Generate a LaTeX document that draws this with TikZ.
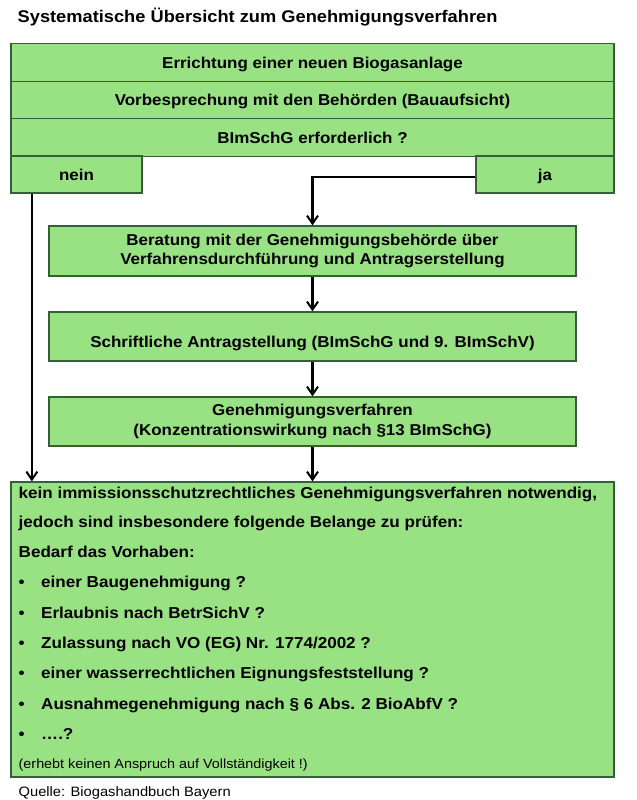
\documentclass[tikz,border=0pt]{standalone}
\usepackage{fontspec}
\setmainfont{Liberation Sans}
\newfontfamily\widefont[FakeStretch=1.08]{Liberation Sans}
\usetikzlibrary{arrows.meta,calc}
\definecolor{boxgreen}{RGB}{152,226,132}
\definecolor{boxline}{RGB}{55,95,55}
\begin{document}
\begin{tikzpicture}[x=1bp,y=-1bp,
  box/.style={draw=boxline, line width=1.3bp, fill=boxgreen, inner sep=0pt, align=center,
    font=\widefont\bfseries\fontsize{15.7bp}{19.5bp}\selectfont},
  oneline/.style={text height=11.2bp, text depth=0bp},
  flow/.style={line width=2.3bp, -{Straight Barb[length=8bp,width=11bp,line width=2bp]}},
  bodytext/.style={anchor=base west, inner sep=0pt, font=\widefont\bfseries\fontsize{15.8bp}{18bp}\selectfont},
  smalltext/.style={anchor=base west, inner sep=0pt, font=\widefont\fontsize{13.3bp}{15bp}\selectfont},
  titletext/.style={anchor=base west, inner sep=0pt, font=\widefont\bfseries\fontsize{16.9bp}{19bp}\selectfont},
  srctext/.style={anchor=base west, inner sep=0pt, font=\widefont\fontsize{13.6bp}{16bp}\selectfont}]
\useasboundingbox (0,0) rectangle (637,800);

\node[titletext] (title) at (17.5,22.7) {Systematische Übersicht zum Genehmigungsverfahren};

\node[box, oneline, minimum width=603bp, minimum height=37.5bp] (r1) at (312.5,62.5) {Errichtung einer neuen Biogasanlage};
\node[box, oneline, minimum width=603bp, minimum height=37.5bp] (r2) at (312.5,100) {Vorbesprechung mit den Behörden (Bauaufsicht)};
\node[box, oneline, minimum width=603bp, minimum height=37.5bp] (r3) at (312.5,137.5) {BImSchG erforderlich ?};
\node[box, oneline, minimum width=131bp, minimum height=37bp] (nein) at (76.5,174.5) {nein};
\node[box, oneline, minimum width=138bp, minimum height=37bp] (ja) at (545,174.5) {ja};

\node[box, minimum width=527bp, minimum height=50bp] (ber) at (312.5,251)
  {Beratung mit der Genehmigungsbehörde über\\Verfahrensdurchführung und Antragserstellung};
\node[box, text height=21.5bp, text depth=0bp, minimum width=527bp, minimum height=49bp] (sch) at (312.5,336.5)
  {Schriftliche Antragstellung (BImSchG und 9. BImSchV)};
\node[box, minimum width=527bp, minimum height=49bp] (gen) at (312.5,421.5)
  {Genehmigungsverfahren\\(Konzentrationswirkung nach §13 BImSchG)};

\node[box, minimum width=603bp, minimum height=295bp] (big) at (312.5,629.5) {};

\node[bodytext] (t1) at (18.5,498) {kein immissionsschutzrechtliches Genehmigungsverfahren notwendig,};
\node[bodytext] (t2) at (18.5,527) {jedoch sind insbesondere folgende Belange zu prüfen:};
\node[bodytext] (t3) at (18.5,557) {Bedarf das Vorhaben:};
\node[bodytext] (t4) at (18.5,587) {\makebox[22.5bp][l]{•}einer Baugenehmigung ?};
\node[bodytext] (t5) at (18.5,618) {\makebox[22.5bp][l]{•}Erlaubnis nach BetrSichV ?};
\node[bodytext] (t6) at (18.5,648) {\makebox[22.5bp][l]{•}Zulassung nach VO (EG) Nr. 1774/2002 ?};
\node[bodytext] (t7) at (18.5,678) {\makebox[22.5bp][l]{•}einer wasserrechtlichen Eignungsfeststellung ?};
\node[bodytext] (t8) at (18.5,709) {\makebox[22.5bp][l]{•}Ausnahmegenehmigung nach § 6 Abs. 2 BioAbfV ?};
\node[bodytext] (t9) at (18.5,739) {\makebox[22.5bp][l]{•}….?};
\node[smalltext] (t10) at (18.5,768) {(erhebt keinen Anspruch auf Vollständigkeit !)};

\node[srctext] (src) at (18.5,796) {Quelle: Biogashandbuch Bayern};

\draw[flow] ([xshift=21.5bp]nein.south west) -- ([xshift=21.5bp]nein.south west |- big.north);
\draw[flow] ([yshift=-2.5bp]ja.west) -| (ber.north);
\draw[flow] (ber) -- (sch);
\draw[flow] (sch) -- (gen);
\draw[flow] (gen) -- (big);
\end{tikzpicture}
\end{document}
